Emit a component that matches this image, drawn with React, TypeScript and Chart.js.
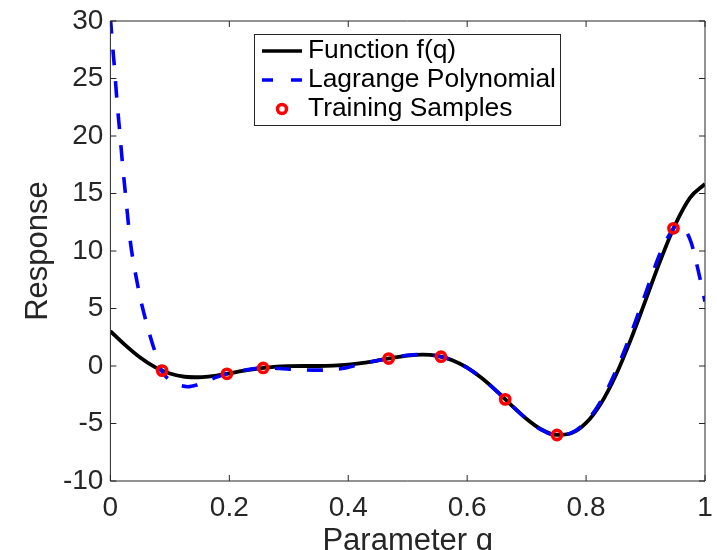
import { useEffect, useRef } from "react";
import { Chart, registerables } from "chart.js";

Chart.register(...registerables);

// Function f(q) sampled on a regular grid
const qGrid = [
  0, 0.025, 0.05, 0.075, 0.1, 0.125, 0.15, 0.175, 0.2, 0.225, 0.25, 0.275, 0.3, 0.325,
  0.35, 0.375, 0.4, 0.425, 0.45, 0.475, 0.5, 0.525, 0.55, 0.575, 0.6, 0.625, 0.65, 0.675,
  0.7, 0.725, 0.75, 0.775, 0.8, 0.825, 0.85, 0.875, 0.9, 0.925, 0.95, 0.975, 1.0,
];
const fValues = [
  3.027, 1.813, 0.738, -0.1, -0.657, -0.935, -0.978, -0.854, -0.64, -0.407, -0.21, -0.079,
  -0.016, 0.0, 0.002, 0.03, 0.115, 0.27, 0.483, 0.717, 0.909, 0.986, 0.871, 0.503, -0.149,
  -1.074, -2.209, -3.439, -4.606, -5.522, -5.993, -5.845, -4.95, -3.254, -0.799, 2.272,
  5.712, 9.187, 12.303, 14.649, 15.83,
];

// Lagrange interpolating polynomial through the training samples
const lagQ = [
  0, 0.0025, 0.0072, 0.0113, 0.016, 0.0205, 0.026, 0.0336, 0.046, 0.053, 0.0615, 0.068,
  0.0766, 0.086, 0.098, 0.113, 0.13, 0.145, 0.16, 0.18, 0.196, 0.22, 0.257, 0.285, 0.31,
  0.35, 0.39, 0.41, 0.43, 0.45, 0.468, 0.5, 0.525, 0.55, 0.575, 0.6, 0.625, 0.65, 0.675,
  0.7, 0.725, 0.75, 0.775, 0.8, 0.825, 0.85, 0.875, 0.9, 0.925, 0.947, 0.955, 0.965, 0.977,
  0.989, 1.0,
];
const lagValues = [
  30.3, 28.6, 25.7, 22.9, 20.2, 17.5, 14.6, 10.8, 7.0, 5.3, 3.6, 2.4, 1.0, -0.4, -1.15,
  -1.6, -1.8, -1.65, -1.35, -0.95, -0.68, -0.42, -0.17, -0.22, -0.3, -0.36, -0.22, 0.03,
  0.28, 0.48, 0.65, 0.93, 1.0, 0.87, 0.5, -0.15, -1.08, -2.21, -3.44, -4.62, -5.55, -6.0,
  -5.82, -4.85, -3.05, -0.45, 2.75, 6.3, 9.85, 11.97, 12.3, 11.95, 10.7, 8.2, 5.6,
];

// Training samples
const sampleQ = [0.087, 0.196, 0.257, 0.468, 0.556, 0.664, 0.751, 0.947];
const sampleValues = [-0.4, -0.68, -0.17, 0.65, 0.81, -2.9, -6.0, 11.97];

const xTicks = [0, 0.2, 0.4, 0.6, 0.8, 1];
const yTicks = [-10, -5, 0, 5, 10, 15, 20, 25, 30];

const legendLabels = ["Function f(q)", "Lagrange Polynomial", "Training Samples"];

const FONT = "'Liberation Sans', Arial, Helvetica, sans-serif";
const AXIS_COLOR = "#262626";

const zip = (xs: number[], ys: number[]) => xs.map((x, i) => ({ x, y: ys[i] }));
const fmt = (v: number | string) => String(Number(Number(v).toFixed(2)));

// Axes box with inward tick marks on all four sides, plus the boxed legend
const boxPlugin = {
  id: "boxAndLegend",
  afterDraw(chart: any) {
    const { ctx, chartArea } = chart;
    const { left, right, top, bottom } = chartArea;
    const xs = chart.scales.x;
    const ys = chart.scales.y;
    ctx.save();
    ctx.strokeStyle = AXIS_COLOR;
    ctx.lineWidth = 1;
    ctx.beginPath();
    ctx.rect(left, top, right - left, bottom - top);
    const tl = 6;
    xTicks.forEach((v) => {
      const px = xs.getPixelForValue(v);
      ctx.moveTo(px, bottom);
      ctx.lineTo(px, bottom - tl);
      ctx.moveTo(px, top);
      ctx.lineTo(px, top + tl);
    });
    yTicks.forEach((v) => {
      const py = ys.getPixelForValue(v);
      ctx.moveTo(left, py);
      ctx.lineTo(left + tl, py);
      ctx.moveTo(right, py);
      ctx.lineTo(right - tl, py);
    });
    ctx.stroke();

    // legend
    const lx = 254.5;
    const ly = 34.5;
    const lw = 306;
    const lh = 91;
    ctx.fillStyle = "#ffffff";
    ctx.fillRect(lx, ly, lw, lh);
    ctx.strokeStyle = AXIS_COLOR;
    ctx.lineWidth = 1;
    ctx.strokeRect(lx, ly, lw, lh);

    const rows = [51, 80, 109];
    // black line sample
    ctx.strokeStyle = "#000000";
    ctx.lineWidth = 3.5;
    ctx.beginPath();
    ctx.moveTo(262, rows[0]);
    ctx.lineTo(302, rows[0]);
    ctx.stroke();
    // blue dashed sample
    ctx.strokeStyle = "#0000ff";
    ctx.beginPath();
    ctx.moveTo(262, rows[1]);
    ctx.lineTo(273, rows[1]);
    ctx.moveTo(291, rows[1]);
    ctx.lineTo(302, rows[1]);
    ctx.stroke();
    // red marker sample
    ctx.strokeStyle = "#ff0000";
    ctx.lineWidth = 3.5;
    ctx.beginPath();
    ctx.arc(282, rows[2], 4.5, 0, Math.PI * 2);
    ctx.stroke();

    ctx.fillStyle = "#000000";
    ctx.font = `26.4px ${FONT}`;
    ctx.textBaseline = "middle";
    ctx.textAlign = "left";
    legendLabels.forEach((t, i) => ctx.fillText(t, 308, rows[i]));
    ctx.restore();
  },
};

export default function App() {
  const ref = useRef<HTMLCanvasElement>(null);

  useEffect(() => {
    const chart = new Chart(ref.current as HTMLCanvasElement, {
      type: "line",
      data: {
        datasets: [
          {
            label: legendLabels[2],
            data: zip(sampleQ, sampleValues),
            showLine: false,
            pointRadius: 4.6,
            pointBorderWidth: 3.6,
            pointBorderColor: "#ff0000",
            pointBackgroundColor: "rgba(0,0,0,0)",
            borderColor: "#ff0000",
            order: 1,
          },
          {
            label: legendLabels[1],
            data: zip(lagQ, lagValues),
            borderColor: "#0000ff",
            borderWidth: 3.6,
            borderDash: [16, 16],
            pointRadius: 0,
            cubicInterpolationMode: "monotone",
            fill: false,
            order: 2,
          },
          {
            label: legendLabels[0],
            data: zip(qGrid, fValues),
            borderColor: "#000000",
            borderWidth: 3.8,
            pointRadius: 0,
            cubicInterpolationMode: "monotone",
            fill: false,
            order: 3,
          },
        ],
      },
      options: {
        animation: false,
        responsive: false,
        devicePixelRatio: 1,
        events: [],
        layout: { padding: { left: 0, right: 12, top: 21, bottom: 0 } },
        plugins: {
          legend: { display: false },
          tooltip: { enabled: false },
        },
        scales: {
          x: {
            type: "linear",
            min: 0,
            max: 1,
            grid: { display: false, drawTicks: false },
            border: { display: false },
            ticks: {
              stepSize: 0.2,
              padding: 10,
              color: AXIS_COLOR,
              font: { family: FONT, size: 28 },
              maxRotation: 0,
              autoSkip: false,
              callback: (v: number | string) => fmt(v),
            },
            title: {
              display: true,
              text: "Parameter q",
              color: AXIS_COLOR,
              font: { family: FONT, size: 31, lineHeight: 0.56 },
              padding: 0,
            },
            afterFit: (s: any) => {
              s.height = 69;
              s.paddingLeft = 0;
              s.paddingRight = 0;
            },
          },
          y: {
            type: "linear",
            min: -10,
            max: 30,
            grid: { display: false, drawTicks: false },
            border: { display: false },
            ticks: {
              stepSize: 5,
              padding: 7,
              color: AXIS_COLOR,
              font: { family: FONT, size: 28 },
              autoSkip: false,
              callback: (v: number | string) => fmt(v),
            },
            title: {
              display: true,
              text: "Response",
              color: AXIS_COLOR,
              font: { family: FONT, size: 31, lineHeight: 1.2 },
              padding: { top: 19.7, bottom: 0 },
            },
            afterFit: (s: any) => {
              s.width = 110.4;
              s.paddingTop = 0;
              s.paddingBottom = 0;
            },
          },
        },
      },
      plugins: [boxPlugin],
    });
    return () => chart.destroy();
  }, []);

  return (
    <div
      style={{
        position: "fixed",
        left: 0,
        top: 0,
        width: 717,
        height: 550,
        background: "#ffffff",
      }}
    >
      <canvas ref={ref} width={717} height={550} style={{ display: "block", width: 717, height: 550 }} />
    </div>
  );
}
